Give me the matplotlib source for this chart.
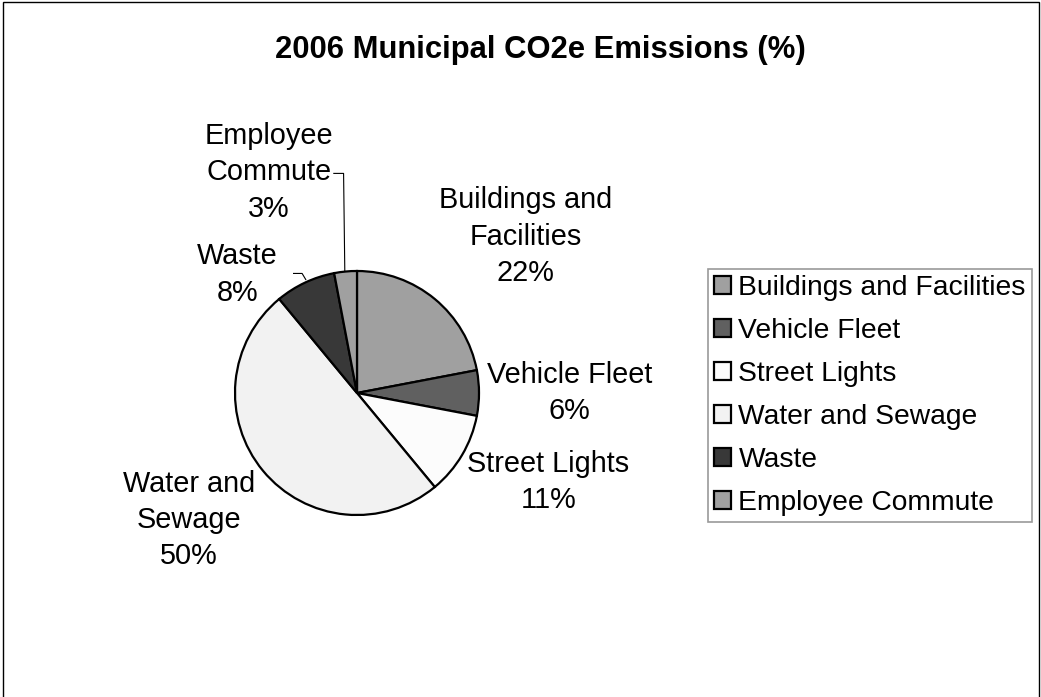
# Pie chart of 2006 municipal CO2e emissions by sector

import matplotlib.pyplot as plt
from matplotlib.patches import Rectangle

plt.rcParams['font.family'] = ['Liberation Sans', 'DejaVu Sans']

sectors = ['Buildings and Facilities', 'Vehicle Fleet', 'Street Lights',
           'Water and Sewage', 'Waste', 'Employee Commute']
shares = [22, 6, 11, 50, 8, 3]
label_text = ['Buildings and\nFacilities', 'Vehicle Fleet', 'Street Lights',
              'Water and\nSewage', 'Waste', 'Employee\nCommute']
fills = ['#a0a0a0', '#606060', '#fcfcfc', '#f2f2f2', '#383838', '#a0a0a0']

# where each data label sits, in pie-radius units from the centre
label_pos = [(1.38, 1.28), (1.74, 0.0), (1.57, -0.73),
             (-1.38, -1.04), (-0.98, 0.97), (-0.72, 1.81)]

W, H = 1041, 697
fig = plt.figure(figsize=(W / 100, H / 100), dpi=100)

# outer chart frame
fig.patches.append(Rectangle((3 / W, -0.01), 1036 / W, 1 - 2 / H + 0.01,
                             transform=fig.transFigure, fill=False,
                             edgecolor='black', linewidth=1.0))

fig.text(540 / W, 1 - 50 / H, '2006 Municipal CO2e Emissions (%)',
         ha='center', va='center', fontsize=22.3, fontweight='bold')

cx, cy, r = 357, 393, 122
ax = fig.add_axes([(cx - r) / W, (H - cy - r) / H, 2 * r / W, 2 * r / H])
wedges, _ = ax.pie(shares, colors=fills, startangle=90, counterclock=False,
                   radius=1, wedgeprops=dict(edgecolor='black', linewidth=1.6))
ax.set_xlim(-1, 1)
ax.set_ylim(-1, 1)
ax.set_aspect('auto')
ax.axis('off')

for name, val, (lx, ly) in zip(label_text, shares, label_pos):
    ax.text(lx, ly, f'{name}\n{val}%', ha='center', va='center',
            fontsize=20.8, linespacing=1.38, clip_on=False)

# leader lines for the two small slices on the upper left
ax.plot([-0.19, -0.11, -0.10], [1.80, 1.80, 1.0], color='black',
        linewidth=0.8, clip_on=False)
ax.plot([-0.52, -0.45, -0.42], [0.98, 0.98, 0.93], color='black',
        linewidth=0.8, clip_on=False)

leg = fig.legend(wedges, sectors, loc='upper left',
                 bbox_to_anchor=(708 / W, 1 - 269 / H), borderaxespad=0,
                 fontsize=20.3, handlelength=0.58, handleheight=0.58,
                 handletextpad=0.28, labelspacing=0.6, borderpad=0.22,
                 frameon=True, fancybox=False)
leg.get_frame().set_edgecolor('#808080')
leg.get_frame().set_linewidth(1.2)
for h in leg.legend_handles:
    h.set_edgecolor('black')
    h.set_linewidth(1.6)

fig.savefig('out.png', dpi=100)
